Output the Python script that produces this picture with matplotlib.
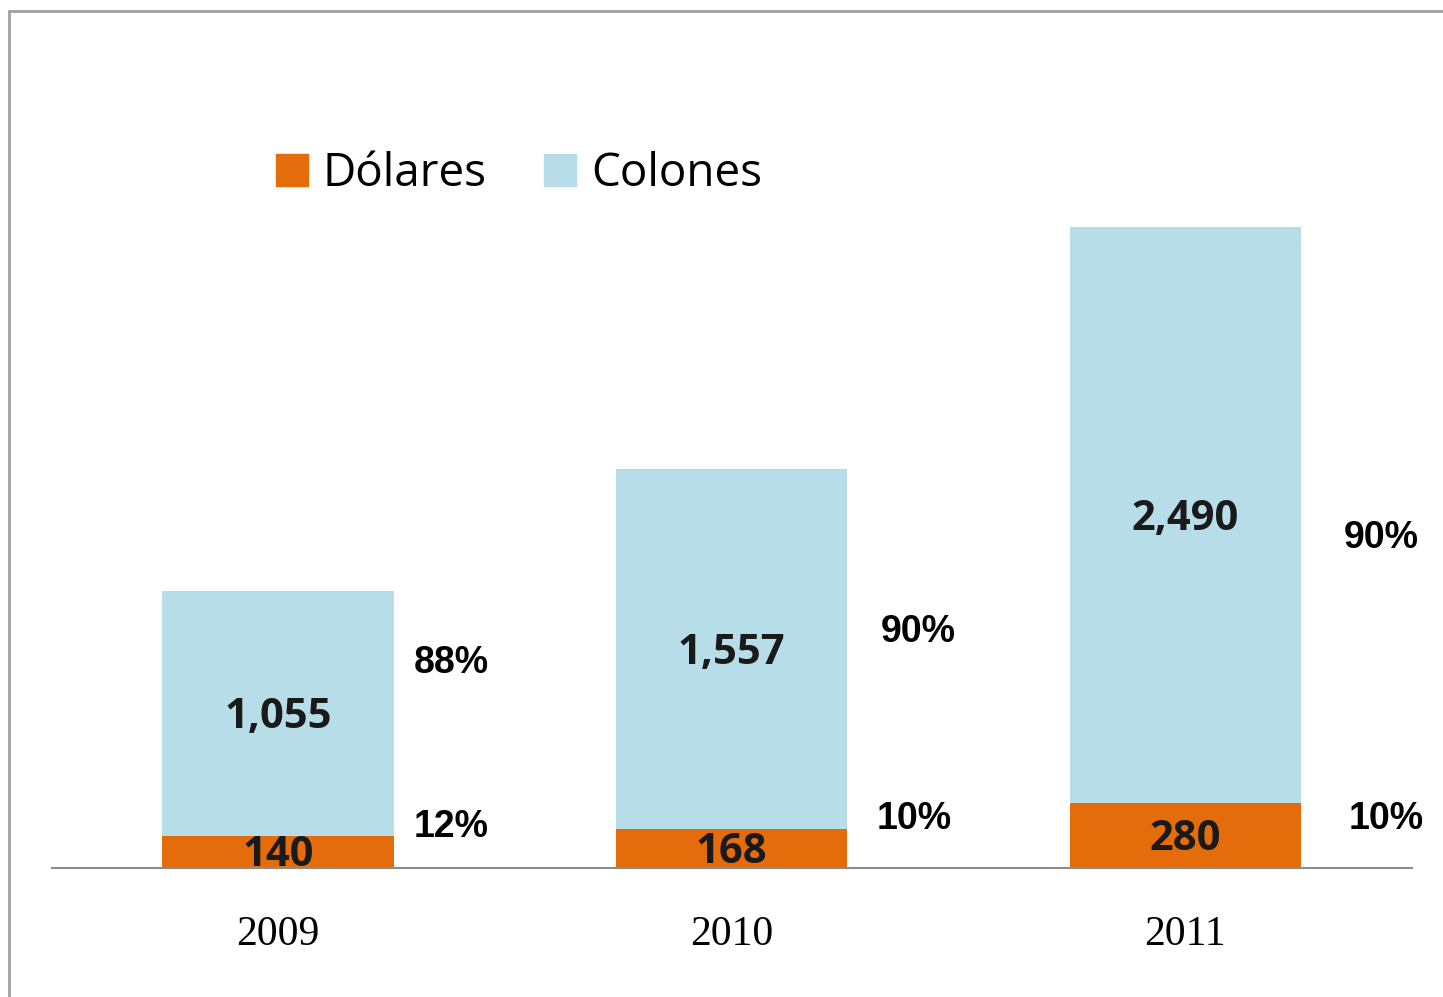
import matplotlib
matplotlib.use("Agg")
import matplotlib.pyplot as plt
from matplotlib.patches import Rectangle, Patch

years = ["2009", "2010", "2011"]
dolares = [140, 168, 280]
colones = [1055, 1557, 2490]
pct_dolares = ["12%", "10%", "10%"]
pct_colones = ["88%", "90%", "90%"]

# where the percent labels sit (offset right of bar center, y in data units)
pct_dx_col = [0.30, 0.33, 0.35]
pct_y_col = [885, 1020, 1425]
pct_dx_dol = [0.30, 0.32, 0.36]
pct_y_dol = [176, 212, 212]

orange = "#E46C0A"
blue = "#B7DDE8"

fig = plt.figure(figsize=(14.43, 9.97), dpi=100)
ax = fig.add_axes([52 / 1443, 1 - 868 / 997, 1360 / 1443, 694.5 / 997])

x = list(range(len(years)))
ax.bar(x, dolares, width=0.51, color=orange)
ax.bar(x, colones, width=0.51, bottom=dolares, color=blue)
ax.set_xlim(-0.498, 2.5)
ax.set_ylim(0, 3000)

val_font = dict(ha="center", va="center", fontsize=30, family="Open Sans",
                fontweight="bold", color="#1a1a1a", textcoords="offset points")
for i in x:
    ax.annotate(f"{dolares[i]:,}", (i, dolares[i] / 2), xytext=(0, -3), **val_font)
    ax.annotate(f"{colones[i]:,}", (i, dolares[i] + colones[i] / 2), xytext=(0, -3), **val_font)
    ax.text(i + pct_dx_col[i], pct_y_col[i], pct_colones[i], ha="left", va="center",
            fontsize=27, family="Liberation Sans", fontweight="bold")
    ax.text(i + pct_dx_dol[i], pct_y_dol[i], pct_dolares[i], ha="left", va="center",
            fontsize=27, family="Liberation Sans", fontweight="bold")

for s in ["top", "right", "left"]:
    ax.spines[s].set_visible(False)
ax.spines["bottom"].set_color("#8c8c8c")
ax.spines["bottom"].set_linewidth(1.5)
ax.set_yticks([])
ax.set_xticks(x)
ax.set_xticklabels(years, family="Liberation Serif", fontsize=30)
ax.tick_params(axis="x", length=0, pad=34)

handles = [Patch(color=orange, label="Dólares"), Patch(color=blue, label="Colones")]
fig.legend(handles=handles, loc="center left", bbox_to_anchor=(276 / 1443, 1 - 174 / 997),
           ncol=2, frameon=False, prop={"family": "Open Sans", "size": 33},
           handlelength=0.69, handleheight=0.69, handletextpad=0.33,
           columnspacing=1.25, borderpad=0, borderaxespad=0)

fig.patches.append(Rectangle((9 / 1443, -0.1), 1.2, 1.1 - 11 / 997, transform=fig.transFigure,
                             fill=False, edgecolor="#a0a0a0", linewidth=2))

fig.savefig("out.png", dpi=100)
